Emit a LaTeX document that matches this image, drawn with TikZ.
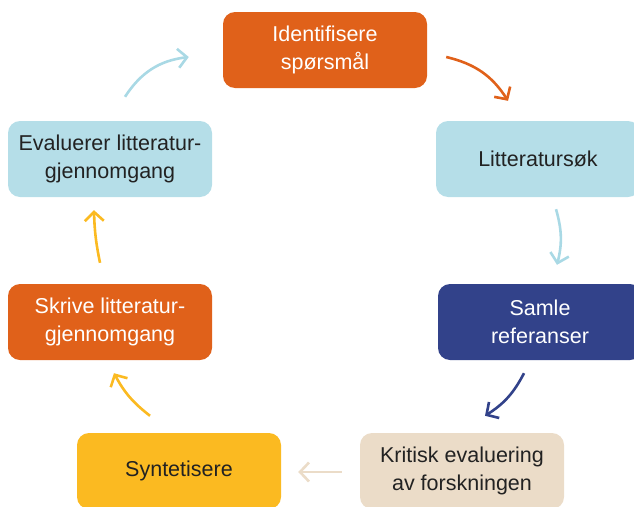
\documentclass[tikz,border=0pt]{standalone}
\usepackage{fontspec}
\setmainfont{Liberation Sans}
\usetikzlibrary{positioning,arrows.meta}
\definecolor{oransje}{HTML}{E0611A}
\definecolor{lysbla}{HTML}{B5DEE8}
\definecolor{pilbla}{HTML}{A9D9E5}
\definecolor{morkbla}{HTML}{32428A}
\definecolor{beige}{HTML}{EBDCC8}
\definecolor{gul}{HTML}{FBBA21}
\definecolor{tekst}{HTML}{222222}

\begin{document}
\begin{tikzpicture}
    [
    x=1pt, y=1pt,
    basic/.style={rounded corners=12pt, text centered, align=center,
        font=\fontsize{21.5}{27.5}\selectfont},
    rect/.style={basic, minimum width=204pt, minimum height=76pt, inner sep=0pt},
    pil/.style={line width=2.6pt, -{Straight Barb[length=9pt,width=19pt]}},
    >={Straight Barb[]}
    ]

    \useasboundingbox (0,0) rectangle (634,-506);

    % Trinn i syklusen
    \node [rect, fill=oransje, text=white] (idf) at (325,-50) {Identifisere\\spørsmål};
    \node [rect, fill=lysbla, text=tekst] (lit) at (538,-159) {Litteratursøk};
    \node [rect, fill=morkbla, text=white] (sam) at (540,-322) {Samle\\referanser};
    \node [rect, fill=beige, text=tekst] (krit) at (462,-471) {Kritisk evaluering\\av forskningen};
    \node [rect, fill=gul, text=tekst] (syn) at (179,-471) {Syntetisere};
    \node [rect, fill=oransje, text=white] (skr) at (110,-322) {Skrive litteratur-\\gjennomgang};
    \node [rect, fill=lysbla, text=tekst] (eva) at (110,-159) {Evaluerer litteratur-\\gjennomgang};

    % Piler mellom trinnene
    \draw [pil, draw=oransje] ([shift={(19,-7)}]idf.east) to[bend left=22] ([shift={(-30,20)}]lit.north);
    \draw [pil, draw=pilbla] ([shift={(18,-12)}]lit.south) to[bend left=15] ([shift={(17,19)}]sam.north);
    \draw [pil, draw=morkbla] ([shift={(-16,-13)}]sam.south) to[bend left=15] ([shift={(23,17)}]krit.north);
    \draw [pil, draw=beige] ([shift={(-18,-1)}]krit.west) -- ([shift={(17,-1)}]syn.east);
    \draw [pil, draw=gul] ([shift={(-29,17)}]syn.north) to[bend left=12] ([shift={(4,-13)}]skr.south);
    \draw [pil, draw=gul] ([shift={(-10,21)}]skr.north) to[bend left=5] ([shift={(-16,-13)}]eva.south);
    \draw [pil, draw=pilbla] ([shift={(15,24)}]eva.north) to[bend left=25] ([shift={(-34,-7)}]idf.west);
\end{tikzpicture}
\end{document}
